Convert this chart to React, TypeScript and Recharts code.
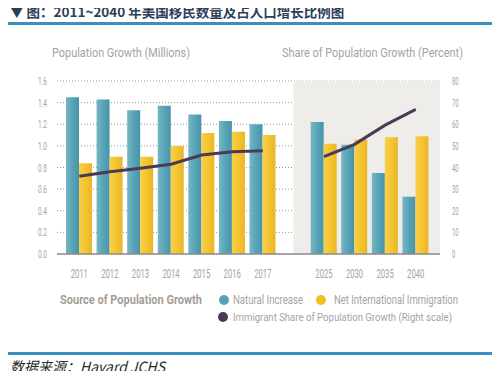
import {
  ComposedChart,
  Bar,
  Line,
  XAxis,
  YAxis,
  CartesianGrid,
  ReferenceArea,
} from "recharts";

// categories; the blank entry is the gap between actuals and projections
const years = ["2011", "2012", "2013", "2014", "2015", "2016", "2017", " ", "2025", "2030", "2035", "2040"];
const naturalIncrease = [1.45, 1.43, 1.33, 1.37, 1.29, 1.23, 1.2, null, 1.22, 1.01, 0.75, 0.53];
const netImmigration = [0.84, 0.9, 0.9, 1.0, 1.12, 1.13, 1.1, null, 1.02, 1.06, 1.08, 1.09];
const immigrantShare = [36, 38, 39.6, 41.5, 45.8, 47.3, 47.8, null, 45, 50.7, 59.6, 66.9];
const leftTicks = [0, 0.2, 0.4, 0.6, 0.8, 1.0, 1.2, 1.4, 1.6];
const rightTicks = [0, 10, 20, 30, 40, 50, 60, 70, 80];

const data = years.map((y, i) => ({
  year: y,
  natural: naturalIncrease[i],
  immigration: netImmigration[i],
  share: immigrantShare[i],
  idx: i,
}));

const TEAL = "#55a3b6";
const YELLOW = "#f2bf1b";
const PURPLE = "#4a3a57";
const LABEL = "#a3a3a3";
const FONT = "Roboto, 'DejaVu Sans', sans-serif";

// geometry of the plot
const PLOT_W = 383;
const PAD_L = 7;
const PAD_R = 9;
const band = (PLOT_W - PAD_L - PAD_R) / years.length;
const bgDomain = [-0.5 - PAD_L / band, years.length - 0.5 + PAD_R / band];
const projStart = years.indexOf(" ");

// condensed labels: squeeze glyphs to the narrow width of the original font
function XTick(p: any) {
  const v = String(p.payload.value).trim();
  if (!v) return null;
  return (
    <text x={p.x} y={p.y} dy={10} textAnchor="middle" fontSize={12.5} fill={LABEL} fontFamily={FONT}
      textLength={v.length * 4.3} lengthAdjust="spacingAndGlyphs">
      {v}
    </text>
  );
}

function LeftTick(p: any) {
  const v = Number(p.payload.value).toFixed(1);
  return (
    <text x={p.x} y={p.y} dy={4} textAnchor="end" fontSize={11} fill={LABEL} fontFamily={FONT}
      textLength={9} lengthAdjust="spacingAndGlyphs">
      {v}
    </text>
  );
}

function RightTick(p: any) {
  const v = String(p.payload.value);
  return (
    <text x={p.x} y={p.y} dy={4} textAnchor="start" fontSize={11} fill={LABEL} fontFamily={FONT}
      textLength={v.length * 3.3} lengthAdjust="spacingAndGlyphs">
      {v}
    </text>
  );
}

function Narrow({ x, y, w, size, children, bold, color }: any) {
  return (
    <text x={x} y={y} fontSize={size} fontFamily={FONT} fontWeight={bold ? 700 : 400} fill={color || LABEL}
      textLength={w} lengthAdjust="spacingAndGlyphs">
      {children}
    </text>
  );
}

export default function App() {
  return (
    <div
      style={{
        position: "relative",
        width: 500,
        height: 379,
        margin: -8,
        background: "#fff",
        overflow: "hidden",
      }}
    >
      <div
        style={{
          position: "absolute",
          left: 10,
          top: 3,
          fontFamily: "'Noto Sans CJK SC', 'Noto Sans', sans-serif",
          fontWeight: 700,
          fontSize: 13.5,
          color: "#2d3f57",
          whiteSpace: "nowrap",
          lineHeight: "17px",
        }}
      >
        ▼ 图：2011~2040 年美国移民数量及占人口增长比例图
      </div>
      <div style={{ position: "absolute", left: 0, top: 22, width: 500, height: 3, background: "#3b8fc0" }} />

      <div style={{ position: "absolute", left: 0, top: 0 }}>
        <ComposedChart
          width={500}
          height={290}
          data={data}
          margin={{ top: 81, right: 20, left: 27, bottom: 10 }}
          barGap={0}
        >
          <defs>
            <linearGradient id="tealGrad" x1="0" y1="0" x2="1" y2="0">
              <stop offset="0%" stopColor="#78b6c4" />
              <stop offset="45%" stopColor="#5aa6b9" />
              <stop offset="100%" stopColor="#4893a8" />
            </linearGradient>
            <linearGradient id="yellowGrad" x1="0" y1="0" x2="1" y2="0">
              <stop offset="0%" stopColor="#f7cf4c" />
              <stop offset="50%" stopColor="#f5c530" />
              <stop offset="100%" stopColor="#e9b526" />
            </linearGradient>
          </defs>
          <XAxis xAxisId="bg" type="number" dataKey="idx" domain={bgDomain} hide />
          <ReferenceArea
            xAxisId="bg"
            yAxisId="left"
            x1={projStart}
            x2={bgDomain[1]}
            fill="#efede9"
            fillOpacity={1}
            stroke="none"
            ifOverflow="visible"
          />
          <CartesianGrid vertical={false} stroke="#9a9a9a" strokeDasharray="1 2" yAxisId="left" />
          <XAxis
            dataKey="year"
            padding={{ left: PAD_L, right: PAD_R }}
            tickLine={false}
            tickSize={0}
            tickMargin={14}
            axisLine={{ stroke: "#8c8c8c", strokeWidth: 1.5 }}
            tick={<XTick />}
            height={26}
            interval={0}
          />
          <YAxis
            yAxisId="left"
            domain={[0, 1.6]}
            ticks={leftTicks}
            interval={0}
            width={30}
            tickLine={false}
            axisLine={false}
            tickSize={0}
            tickMargin={10}
            tick={<LeftTick />}
          />
          <YAxis
            yAxisId="right"
            orientation="right"
            domain={[0, 80]}
            ticks={rightTicks}
            interval={0}
            width={40}
            tickLine={false}
            axisLine={false}
            tickSize={0}
            tickMargin={12}
            tick={<RightTick />}
          />
          <Bar yAxisId="left" dataKey="natural" fill="url(#tealGrad)" barSize={13} isAnimationActive={false} />
          <Bar yAxisId="left" dataKey="immigration" fill="url(#yellowGrad)" barSize={13} isAnimationActive={false} />
          <Line
            yAxisId="right"
            dataKey="share"
            stroke={PURPLE}
            strokeWidth={3}
            dot={false}
            activeDot={false}
            type="linear"
            isAnimationActive={false}
          />
        </ComposedChart>
      </div>

      <svg width={500} height={379} style={{ position: "absolute", left: 0, top: 0, pointerEvents: "none" }}>
        <Narrow x={52} y={57} w={138} size={13}>Population Growth (Millions)</Narrow>
        <Narrow x={282} y={57} w={181} size={12.5}>Share of Population Growth (Percent)</Narrow>

        <Narrow x={60} y={304} w={142} size={12.5} bold color="#a69d96">Source of Population Growth</Narrow>
        <circle cx={224} cy={300} r={5} fill={TEAL} />
        <Narrow x={233} y={304} w={70} size={12.5}>Natural Increase</Narrow>
        <circle cx={321} cy={300} r={5} fill={YELLOW} />
        <Narrow x={334} y={304} w={124} size={12.5}>Net International Immigration</Narrow>
        <circle cx={223} cy={317} r={5} fill={PURPLE} />
        <Narrow x={233} y={321} w={219} size={11.5}>Immigrant Share of Population Growth (Right scale)</Narrow>
      </svg>

      <div style={{ position: "absolute", left: 0, top: 352, width: 500, height: 3, background: "#3b8fc0" }} />
      <div
        style={{
          position: "absolute",
          left: 10,
          top: 357,
          fontSize: 14,
          fontStyle: "italic",
          color: "#2a2a2a",
          fontFamily: "'Noto Sans CJK SC', 'Open Sans', sans-serif",
          whiteSpace: "nowrap",
          lineHeight: "18px",
        }}
      >
        数据来源：Havard JCHS
      </div>
    </div>
  );
}
